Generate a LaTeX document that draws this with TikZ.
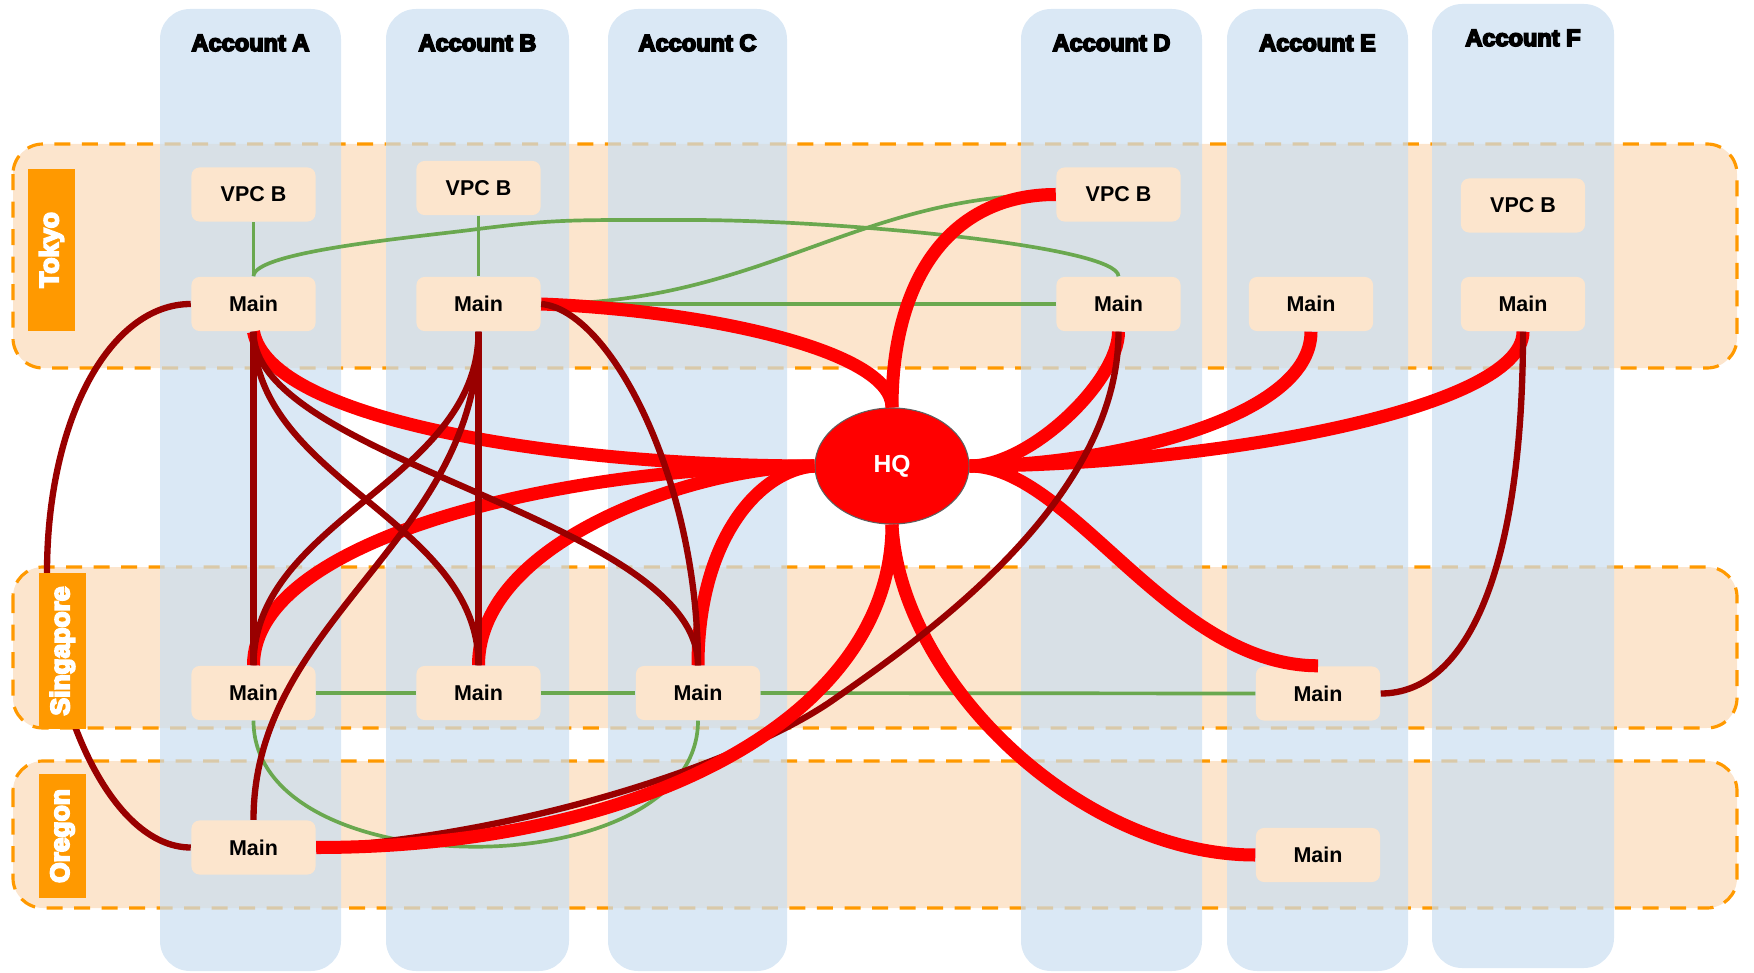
\documentclass[tikz,border=0pt]{standalone}
\usepackage{fontspec}
\setmainfont{Liberation Sans}
\newfontfamily\heavyfont{Liberation Sans Bold}[FakeBold=7]
\usetikzlibrary{shapes.geometric}

\definecolor{bandfill}{HTML}{FCE5CD}
\definecolor{bandline}{HTML}{FF9900}
\definecolor{colfill}{HTML}{CADEF1}
\definecolor{linkgreen}{HTML}{6AA84F}
\definecolor{linkdark}{HTML}{990000}
\definecolor{linkred}{HTML}{FF0000}
\definecolor{hqborder}{HTML}{5F5F5F}

\begin{document}
\begin{tikzpicture}[x=0.01cm, y=-0.01cm,
  region/.style={fill=bandfill, draw=bandline, line width=0.9pt,
    dash pattern=on 0.16cm off 0.115cm, rounded corners=0.3cm},
  account/.style={fill=colfill, fill opacity=0.7, rounded corners=0.3cm},
  acctitle/.style={inner sep=0pt, font=\heavyfont\fontsize{6.7}{8}\selectfont},
  vpcbox/.style={fill=bandfill, rounded corners=0.08cm, minimum width=1.24cm,
    minimum height=0.54cm, inner sep=0pt, font=\bfseries\fontsize{6.1}{7}\selectfont},
  regionlabel/.style={fill=bandline, text=white, rotate=90, inner sep=0pt,
    minimum height=0.47cm, font=\heavyfont\fontsize{7.5}{9}\selectfont},
  hqnode/.style={ellipse, fill=linkred, draw=hqborder, line width=0.3pt,
    minimum width=1.54cm, minimum height=1.16cm, inner sep=0pt, text=white,
    font=\bfseries\fontsize{7}{8}\selectfont},
  greenlink/.style={draw=linkgreen, line width=1.05pt},
  redlink/.style={draw=linkred, line width=3.7pt},
  darklink/.style={draw=linkdark, line width=1.8pt}
]
\useasboundingbox (0,0) rectangle (1754,973);

% region bands
\draw[region] (13,144) rectangle (1737,368);
\draw[region] (13,567) rectangle (1737,728);
\draw[region] (13,761) rectangle (1737,908);

% account columns
\fill[account] (160,9) rectangle (341,971);
\fill[account] (386,9) rectangle (569,971);
\fill[account] (608,9) rectangle (787,971);
\fill[account] (1021,9) rectangle (1202,971);
\fill[account] (1227,9) rectangle (1408,971);
\fill[account] (1432,4) rectangle (1614,968);

% account titles
\node[acctitle] (tA) at (250.5,43) {Account A};
\node[acctitle] (tB) at (477.5,43) {Account B};
\node[acctitle] (tC) at (697.5,43) {Account C};
\node[acctitle] (tD) at (1111.5,43) {Account D};
\node[acctitle] (tE) at (1317.5,43) {Account E};
\node[acctitle] (tF) at (1523,38) {Account F};

% VPC boxes
\node[vpcbox] (vA) at (253.5,194.5) {VPC B};
\node[vpcbox] (vB) at (478.5,188) {VPC B};
\node[vpcbox] (vD) at (1118.5,194.5) {VPC B};
\node[vpcbox] (vF) at (1523,205.5) {VPC B};
% Tokyo
\node[vpcbox] (mTA) at (253.5,304) {Main};
\node[vpcbox] (mTB) at (478.5,304) {Main};
\node[vpcbox] (mTD) at (1118.5,304) {Main};
\node[vpcbox] (mTE) at (1311,304) {Main};
\node[vpcbox] (mTF) at (1523,304) {Main};
% Singapore
\node[vpcbox] (mSA) at (253.5,693) {Main};
\node[vpcbox] (mSB) at (478.5,693) {Main};
\node[vpcbox] (mSC) at (698,693) {Main};
\node[vpcbox] (mSE) at (1318,693.5) {Main};
% Oregon
\node[vpcbox] (mOA) at (253.5,847.5) {Main};
\node[vpcbox] (mOE) at (1318,855) {Main};

% headquarters
\node[hqnode] (hq) at (892,466) {HQ};

% peering links
\draw[greenlink] (vA) -- (mTA);
\draw[greenlink] (vB) -- (mTB);
\draw[greenlink] (mTA.north) .. controls +(0,-25) and +(-60,8) .. (478,229)
  .. controls +(80,-10) and +(-120,0) .. (690,220)
  .. controls +(150,0) and +(0,-30) .. (mTD.north);
\draw[greenlink] (mTB.east) .. controls +(220,0) and +(-200,0) .. (vD.west);
\draw[greenlink] (mTB) -- (mTD);
\draw[greenlink] (mSA) -- (mSB);
\draw[greenlink] (mSB) -- (mSC);
\draw[greenlink] (mSC.east) -- (mSE.west);
\draw[greenlink] (mSA.south) .. controls +(0,168) and +(0,168) .. (mSC.south);

% links to HQ
\draw[redlink] (mTA.south) .. controls +(17,89) and +(-255,0) .. (hq.west);
\draw[redlink] (mTB.east) .. controls +(159,6) and +(0,-58) .. (hq.north);
\draw[redlink] (vD.west) .. controls +(-106,0) and +(0,-128) .. (hq.north);
\draw[redlink] (mTD.south) .. controls +(0,49) and +(61,0) .. (hq.east);
\draw[redlink] (mTE.south) .. controls +(0,89) and +(131,0) .. (hq.east);
\draw[redlink] (mTF.south) .. controls +(0,79) and +(231,0) .. (hq.east);
\draw[redlink] (hq.west) .. controls +(-255,0) and +(0,-126) .. (mSA.north);
\draw[redlink] (hq.west) .. controls +(-115,0) and +(0,-126) .. (mSB.north);
\draw[redlink] (hq.west) .. controls +(-55,4) and +(0,-126) .. (mSC.north);
\draw[redlink] (hq.south) .. controls +(8,156) and +(-176,0) .. (mOE.west);
\draw[redlink] (hq.east) .. controls +(101,0) and +(-148,0) .. (mSE.north);

% inter-region links
\coordinate (westbend) at (47,573);
\coordinate (d9bend) at (833,700);
\draw[darklink] (mTA.west) .. controls +(-81,0) and +(0,-153) .. (westbend)
  .. controls +(0,127) and +(-81,0) .. (mOA.west);
\draw[darklink] (mTA) -- (mSA);
\draw[darklink] (mTA.south) .. controls +(0,149) and +(0,-146) .. (mSB.north);
\draw[darklink] (mTA.south) .. controls +(0,129) and +(0,-146) .. (mSC.north);
\draw[darklink] (mTB.south) .. controls +(0,149) and +(0,-146) .. (mSA.north);
\draw[darklink] (mTB) -- (mSB);
\draw[darklink] (mTB.south) .. controls +(0,209) and +(0,-201) .. (mOA.north);
\draw[darklink] (mTB.east) .. controls +(69,6) and +(0,-186) .. (mSC.north);
\draw[darklink] (mTD.south) .. controls +(0,169) and +(92,-64) .. (d9bend)
  .. controls +(-92,64) and +(204,-12) .. (mOA.east);
\draw[darklink] (mTF.south) .. controls +(0,229) and +(90,0) .. (mSE.east);

\draw[redlink] (hq.south) .. controls +(0,194) and +(324,0) .. (mOA.east);

% region labels
\node[regionlabel, minimum width=1.62cm] (lTokyo) at (51.5,250) {Tokyo};
\node[regionlabel, minimum width=1.56cm] (lSingapore) at (62.5,651) {Singapore};
\node[regionlabel, minimum width=1.24cm] (lOregon) at (62.5,836) {Oregon};
\end{tikzpicture}
\end{document}
